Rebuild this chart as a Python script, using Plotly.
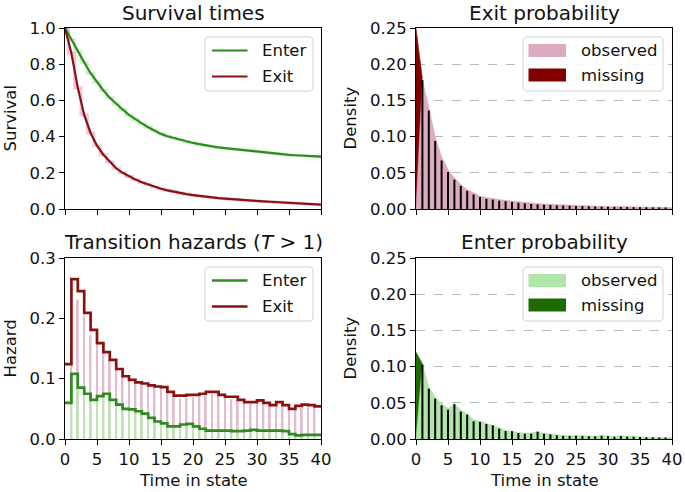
import plotly.graph_objects as go

# ---------------- data ----------------
t_surv = list(range(0, 41))
surv_enter = [1.0, 0.935, 0.87, 0.81, 0.75, 0.70, 0.655, 0.615, 0.58, 0.55, 0.52,
              0.495, 0.473, 0.452, 0.432, 0.415, 0.402, 0.392, 0.382, 0.373, 0.365,
              0.358, 0.351, 0.345, 0.340, 0.336, 0.332, 0.328, 0.324, 0.320, 0.317,
              0.313, 0.310, 0.306, 0.302, 0.299, 0.297, 0.295, 0.293, 0.291, 0.289]
surv_exit = [1.0, 0.86, 0.67, 0.52, 0.42, 0.35, 0.30, 0.26, 0.225, 0.20, 0.18,
             0.163, 0.148, 0.135, 0.123, 0.112, 0.103, 0.095, 0.088, 0.082, 0.077,
             0.072, 0.068, 0.064, 0.060, 0.057, 0.054, 0.051, 0.048, 0.046, 0.044,
             0.042, 0.040, 0.038, 0.036, 0.034, 0.032, 0.030, 0.028, 0.026, 0.024]

t_haz = list(range(0, 40))
haz_exit = [0.124, 0.265, 0.245, 0.209, 0.181, 0.159, 0.144, 0.131, 0.116, 0.104,
            0.098, 0.094, 0.092, 0.089, 0.087, 0.086, 0.078, 0.072, 0.072, 0.073,
            0.073, 0.075, 0.078, 0.078, 0.073, 0.070, 0.070, 0.065, 0.061, 0.061,
            0.064, 0.060, 0.056, 0.061, 0.056, 0.050, 0.055, 0.057, 0.056, 0.054]
haz_enter = [0.060, 0.108, 0.085, 0.075, 0.065, 0.071, 0.075, 0.065, 0.057, 0.050,
             0.049, 0.046, 0.042, 0.035, 0.029, 0.026, 0.021, 0.021, 0.024, 0.025,
             0.021, 0.017, 0.014, 0.014, 0.014, 0.014, 0.013, 0.013, 0.014, 0.015,
             0.014, 0.014, 0.014, 0.014, 0.013, 0.008, 0.006, 0.007, 0.007, 0.007]
t_haz_obs = list(range(1, 40))
haz_exit_obs = [0.160, 0.231, 0.205, 0.172, 0.157, 0.145, 0.132, 0.121, 0.110, 0.100,
                0.096, 0.092, 0.089, 0.086, 0.084, 0.080, 0.072, 0.067, 0.068, 0.069,
                0.070, 0.072, 0.075, 0.074, 0.069, 0.066, 0.066, 0.062, 0.058, 0.059,
                0.061, 0.057, 0.054, 0.057, 0.053, 0.048, 0.052, 0.054, 0.053]
haz_enter_obs = [0.100, 0.100, 0.082, 0.072, 0.066, 0.070, 0.072, 0.063, 0.055, 0.049,
                 0.047, 0.044, 0.039, 0.033, 0.028, 0.024, 0.020, 0.022, 0.023, 0.022,
                 0.018, 0.015, 0.013, 0.013, 0.013, 0.012, 0.012, 0.013, 0.014, 0.013,
                 0.013, 0.013, 0.013, 0.012, 0.009, 0.006, 0.006, 0.006, 0.006]

t_dens = list(range(0, 41))
exit_observed = [0.0, 0.180, 0.140, 0.100, 0.072, 0.055, 0.043, 0.034, 0.027, 0.022,
                 0.018, 0.016, 0.014, 0.013, 0.012, 0.011, 0.010, 0.009, 0.008, 0.0075,
                 0.007, 0.0065, 0.006, 0.0055, 0.005, 0.0048, 0.0045, 0.0042, 0.004, 0.0037,
                 0.0035, 0.0033, 0.0031, 0.003, 0.0028, 0.0027, 0.0025, 0.0024, 0.0022, 0.0021, 0.002]
exit_missing = [0.25, 0.180]
enter_observed = [0.0, 0.104, 0.072, 0.058, 0.049, 0.042, 0.049, 0.040, 0.035, 0.027,
                  0.025, 0.022, 0.020, 0.016, 0.012, 0.011, 0.009, 0.008, 0.0085, 0.0105,
                  0.008, 0.007, 0.0055, 0.0048, 0.0045, 0.0048, 0.0045, 0.004, 0.004, 0.0048,
                  0.0042, 0.0035, 0.0045, 0.0035, 0.0035, 0.0028, 0.0025, 0.0025, 0.0022, 0.002, 0.002]
enter_missing = [0.12, 0.104]
t_bins = list(range(1, 40))
exit_bins = [0.178, 0.136, 0.094, 0.067, 0.051, 0.0405, 0.032, 0.025, 0.020, 0.0166,
             0.014, 0.013, 0.0115, 0.0106, 0.0097, 0.0087, 0.0078, 0.0069, 0.0064, 0.006,
             0.0055, 0.005, 0.0047, 0.0045, 0.0042, 0.004, 0.0037, 0.0035, 0.0033, 0.0031,
             0.003, 0.0028, 0.0027, 0.0026, 0.0025, 0.0024, 0.0023, 0.0022, 0.0021]
enter_bins = [0.103, 0.0695, 0.0557, 0.0465, 0.0405, 0.048, 0.0378, 0.0336, 0.0244, 0.0235,
              0.0207, 0.0189, 0.0143, 0.011, 0.0106, 0.0083, 0.0074, 0.0074, 0.0101, 0.0074,
              0.0064, 0.005, 0.0044, 0.0042, 0.0045, 0.0042, 0.0038, 0.0037, 0.0045, 0.004,
              0.0033, 0.0042, 0.0033, 0.0033, 0.0026, 0.0023, 0.0023, 0.002, 0.0019]

x_ticks = [0, 5, 10, 15, 20, 25, 30, 35, 40]

# ---------------- style ----------------
W, H = 685, 492
FONT = "DejaVu Sans"
RED = "#8b1111"
GREEN = "#2f8a1f"
PINK = "#dcabc0"
LIGHTGREEN = "#b0e6a9"
MAROON = "#800000"
DARKGREEN = "#1c6a00"
HPINK = "#e2bccd"
HGREEN = "#bfe3b6"


def px(x):
    return x / W


def py(y):
    return 1 - y / H


fig = go.Figure()

# ---- survival ----
fig.add_trace(go.Scatter(x=t_surv, y=surv_enter, mode="lines", opacity=0.6,
                         line=dict(color=LIGHTGREEN, width=3, shape="hvh"),
                         xaxis="x", yaxis="y", showlegend=False, hoverinfo="skip"))
fig.add_trace(go.Scatter(x=t_surv, y=surv_exit, mode="lines", opacity=0.6,
                         line=dict(color=PINK, width=3, shape="hvh"),
                         xaxis="x", yaxis="y", showlegend=False, hoverinfo="skip"))
fig.add_trace(go.Scatter(x=t_surv, y=surv_enter, mode="lines", line=dict(color=GREEN, width=2.2),
                         xaxis="x", yaxis="y", name="Enter", showlegend=False))
fig.add_trace(go.Scatter(x=t_surv, y=surv_exit, mode="lines", line=dict(color=RED, width=2.2),
                         xaxis="x", yaxis="y", name="Exit", showlegend=False))

# ---- hazards ----
fig.add_trace(go.Bar(x=t_haz_obs, y=haz_exit_obs, width=0.28, marker=dict(color=HPINK, line=dict(width=0)),
                     xaxis="x3", yaxis="y3", showlegend=False))
fig.add_trace(go.Bar(x=t_haz_obs, y=haz_enter_obs, width=0.28, marker=dict(color=HGREEN, line=dict(width=0)),
                     xaxis="x3", yaxis="y3", showlegend=False))
fig.add_trace(go.Scatter(x=t_haz + [40], y=haz_enter + haz_enter[-1:], mode="lines",
                         line=dict(color=GREEN, width=2.7, shape="hv"),
                         xaxis="x3", yaxis="y3", name="Enter", showlegend=False))
fig.add_trace(go.Scatter(x=t_haz + [40], y=haz_exit + haz_exit[-1:], mode="lines",
                         line=dict(color=RED, width=2.7, shape="hv"),
                         xaxis="x3", yaxis="y3", name="Exit", showlegend=False))


def stems(ts, hs):
    xs, ys = [], []
    for t, h in zip(ts, hs):
        xs += [t, t, None]
        ys += [0, h, None]
    return xs, ys


# ---- exit probability ----
fig.add_trace(go.Scatter(x=t_dens[:2], y=exit_missing, mode="lines", fill="tozeroy", fillcolor=MAROON,
                         line=dict(color=MAROON, width=0.5), xaxis="x2", yaxis="y2", name="missing", showlegend=False))
fig.add_trace(go.Scatter(x=t_dens, y=exit_observed, mode="lines", fill="tozeroy", fillcolor=PINK,
                         line=dict(color=PINK, width=0.5), xaxis="x2", yaxis="y2", name="observed", showlegend=False))
sx, sy = stems(t_bins, exit_bins)
fig.add_trace(go.Scatter(x=sx, y=sy, mode="lines", line=dict(color="black", width=2),
                         xaxis="x2", yaxis="y2", showlegend=False, hoverinfo="skip"))

# ---- enter probability ----
fig.add_trace(go.Scatter(x=t_dens[:2], y=enter_missing, mode="lines", fill="tozeroy", fillcolor=DARKGREEN,
                         line=dict(color=DARKGREEN, width=0.5), xaxis="x4", yaxis="y4", name="missing", showlegend=False))
fig.add_trace(go.Scatter(x=t_dens, y=enter_observed, mode="lines", fill="tozeroy", fillcolor=LIGHTGREEN,
                         line=dict(color=LIGHTGREEN, width=0.5), xaxis="x4", yaxis="y4", name="observed", showlegend=False))
sx, sy = stems(t_bins, enter_bins)
fig.add_trace(go.Scatter(x=sx, y=sy, mode="lines", line=dict(color="black", width=2),
                         xaxis="x4", yaxis="y4", showlegend=False, hoverinfo="skip"))

# ---------------- axes ----------------
LEFT = (65, 321)
RIGHT = (416, 672)
TOP = (28, 209)
BOT = (258, 439)
tickfont = dict(family=FONT, size=16.5, color="#111")


def xax(dom, anchor, labels):
    return dict(domain=[px(dom[0]), px(dom[1])], anchor=anchor, range=[0, 40], tickvals=x_ticks,
                showticklabels=labels, ticks="outside", ticklen=5, tickwidth=1, tickcolor="black",
                showline=True, linecolor="black", linewidth=1, mirror=True, showgrid=False,
                zeroline=False, tickfont=tickfont, fixedrange=True, automargin=False)


def yax(dom, anchor, rng, tv, fmt, grid):
    d = dict(domain=[py(dom[1]), py(dom[0])], anchor=anchor, range=rng, tickvals=tv, tickformat=fmt,
             ticks="outside", ticklen=5, tickwidth=1, tickcolor="black",
             showline=True, linecolor="black", linewidth=1, mirror=True, zeroline=False,
             tickfont=tickfont, fixedrange=True, showgrid=grid, automargin=False)
    if grid:
        d.update(gridcolor="#b4bcbc", griddash="dash", gridwidth=1)
    return d


dens_ticks = [0, 0.05, 0.10, 0.15, 0.20, 0.25]
fig.update_layout(
    xaxis=xax(LEFT, "y", False),
    yaxis=yax(TOP, "x", [0, 1], [0, 0.2, 0.4, 0.6, 0.8, 1.0], ".1f", False),
    xaxis2=xax(RIGHT, "y2", False),
    yaxis2=yax(TOP, "x2", [0, 0.25], dens_ticks, ".2f", True),
    xaxis3=xax(LEFT, "y3", True),
    yaxis3=yax(BOT, "x3", [0, 0.3], [0, 0.1, 0.2, 0.3], ".1f", False),
    xaxis4=xax(RIGHT, "y4", True),
    yaxis4=yax(BOT, "x4", [0, 0.25], dens_ticks, ".2f", True),
)

# ---------------- text ----------------
annotations = []


def text(x, y, s, size=16.5, angle=0, xanchor="center"):
    annotations.append(dict(x=px(x), y=py(y), xref="paper", yref="paper", text=s, showarrow=False,
                            textangle=angle, xanchor=xanchor, yanchor="middle",
                            font=dict(family=FONT, size=size, color="#111")))


text(193, 13, "Survival times", 20)
text(544, 13, "Exit probability", 20)
text(193, 242, "Transition hazards (<i>T</i> > 1)", 20)
text(544, 242, "Enter probability", 20)
text(10, 118.5, "Survival", angle=-90)
text(350, 118.5, "Density", angle=-90)
text(10, 348.5, "Hazard", angle=-90)
text(350, 348.5, "Density", angle=-90)
text(193, 480, "Time in state")
text(544, 480, "Time in state")

# ---------------- legends (drawn) ----------------
shapes = []


def rounded_box(x0, y0, x1, y1, r=4):
    pts = lambda x, y: f"{px(x):.5f},{py(y):.5f}"
    path = (f"M{pts(x0 + r, y0)} L{pts(x1 - r, y0)} Q{pts(x1, y0)} {pts(x1, y0 + r)} "
            f"L{pts(x1, y1 - r)} Q{pts(x1, y1)} {pts(x1 - r, y1)} L{pts(x0 + r, y1)} "
            f"Q{pts(x0, y1)} {pts(x0, y1 - r)} L{pts(x0, y0 + r)} Q{pts(x0, y0)} {pts(x0 + r, y0)} Z")
    shapes.append(dict(type="path", path=path, xref="paper", yref="paper",
                       fillcolor="rgba(255,255,255,0.85)", line=dict(color="#d0d0d0", width=1)))


def line_entry(x, y, color, width, label):
    shapes.append(dict(type="line", x0=px(x), x1=px(x + 35.5), y0=py(y), y1=py(y), xref="paper", yref="paper",
                       line=dict(color=color, width=width)))
    text(x + 48, y, label, xanchor="left")


def patch_entry(x, y, color, label):
    shapes.append(dict(type="rect", x0=px(x), x1=px(x + 37.5), y0=py(y - 6.5), y1=py(y + 6.5),
                       xref="paper", yref="paper", fillcolor=color, line=dict(width=0)))
    text(x + 50, y, label, xanchor="left")


rounded_box(205, 37, 313, 91)
line_entry(212, 50.5, GREEN, 2.2, "Enter")
line_entry(212, 76.5, RED, 2.2, "Exit")

rounded_box(523, 37, 663, 91)
patch_entry(528.5, 50.5, PINK, "observed")
patch_entry(528.5, 75, MAROON, "missing")

rounded_box(205, 267, 313, 321)
line_entry(212, 280.5, GREEN, 2.7, "Enter")
line_entry(212, 306.5, RED, 2.7, "Exit")

rounded_box(523, 267, 663, 321)
patch_entry(528.5, 280.5, LIGHTGREEN, "observed")
patch_entry(528.5, 305, DARKGREEN, "missing")

fig.update_layout(
    width=W, height=H, autosize=False,
    margin=dict(l=0, r=0, t=0, b=0),
    paper_bgcolor="white", plot_bgcolor="white",
    barmode="overlay", showlegend=False,
    annotations=annotations, shapes=shapes,
    font=dict(family=FONT, size=16.5, color="#111"),
)

fig.write_html("out.html", config={"displayModeBar": False},
               post_script="document.body.style.margin='0';document.body.style.overflow='hidden';")
